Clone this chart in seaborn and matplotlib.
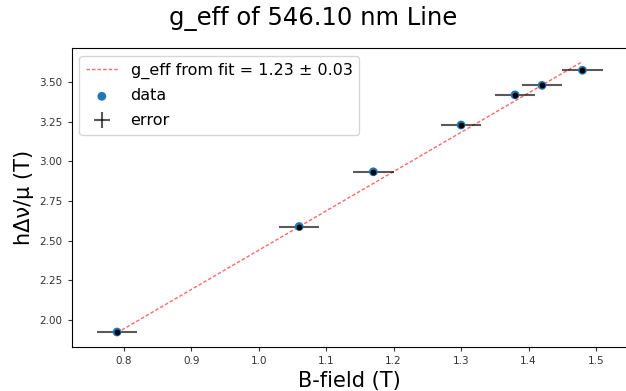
import numpy as np
import pandas as pd
import matplotlib
matplotlib.use("Agg")
import matplotlib.pyplot as plt
import seaborn as sns

# data
b_field = [0.79, 1.06, 1.17, 1.30, 1.38, 1.42, 1.48]
h_dnu_mu = [1.925, 2.59, 2.935, 3.23, 3.42, 3.48, 3.575]
b_err = [0.03, 0.03, 0.03, 0.03, 0.03, 0.03, 0.03]
y_err = [0.007, 0.007, 0.007, 0.007, 0.007, 0.007, 0.007]
# fitted line parameters
fit_slope = 2.478
fit_intercept = -0.0376
fit_label = "g_eff from fit = 1.23 ± 0.03"

df = pd.DataFrame({"B": b_field, "E": h_dnu_mu})
fit_x = np.array([min(b_field), max(b_field)])
fit_df = pd.DataFrame({"B": fit_x, "E": fit_slope * fit_x + fit_intercept})

fig = plt.figure(figsize=(6.26, 3.91), dpi=100)
ax = fig.add_axes([71.5 / 626, 44.3 / 391, (628 - 71.5) / 626, (346.7 - 48) / 391])

sns.lineplot(data=fit_df, x="B", y="E", ax=ax, color="red",
             lw=1.0, alpha=0.6, label=fit_label)
ax.lines[-1].set_dashes([2.5, 1.5])
sns.scatterplot(data=df, x="B", y="E", ax=ax, color="#1f77b4", s=40,
                edgecolor="none", label="data", zorder=3)
ax.errorbar(b_field, h_dnu_mu, xerr=b_err, yerr=y_err, fmt="none",
            ecolor="black", elinewidth=1.5, alpha=0.65, label="error", zorder=2)
ax.scatter(b_field, h_dnu_mu, s=10, color="black", zorder=4)

ax.set_xlabel("B-field (T)", fontsize=15)
ax.set_ylabel("hΔν/μ (T)", fontsize=15)
ax.tick_params(labelsize=7.5, colors="#333333", length=3)
ax.set_yticks([2.00, 2.25, 2.50, 2.75, 3.00, 3.25, 3.50])
ax.set_yticklabels(["2.00", "2.25", "2.50", "2.75", "3.00", "3.25", "3.50"])
ax.set_xticks([0.8, 0.9, 1.0, 1.1, 1.2, 1.3, 1.4, 1.5])
ax.set_xticklabels(["0.8", "0.9", "1.0", "1.1", "1.2", "1.3", "1.4", "1.5"])

handles, labels = ax.get_legend_handles_labels()
ax.legend(handles, labels, loc="upper left", fontsize=11.5, frameon=True,
          labelspacing=0.62)

fig.suptitle("g_eff of 546.10 nm Line", fontsize=17.5, y=0.985)
fig.savefig("out.png", dpi=100)
